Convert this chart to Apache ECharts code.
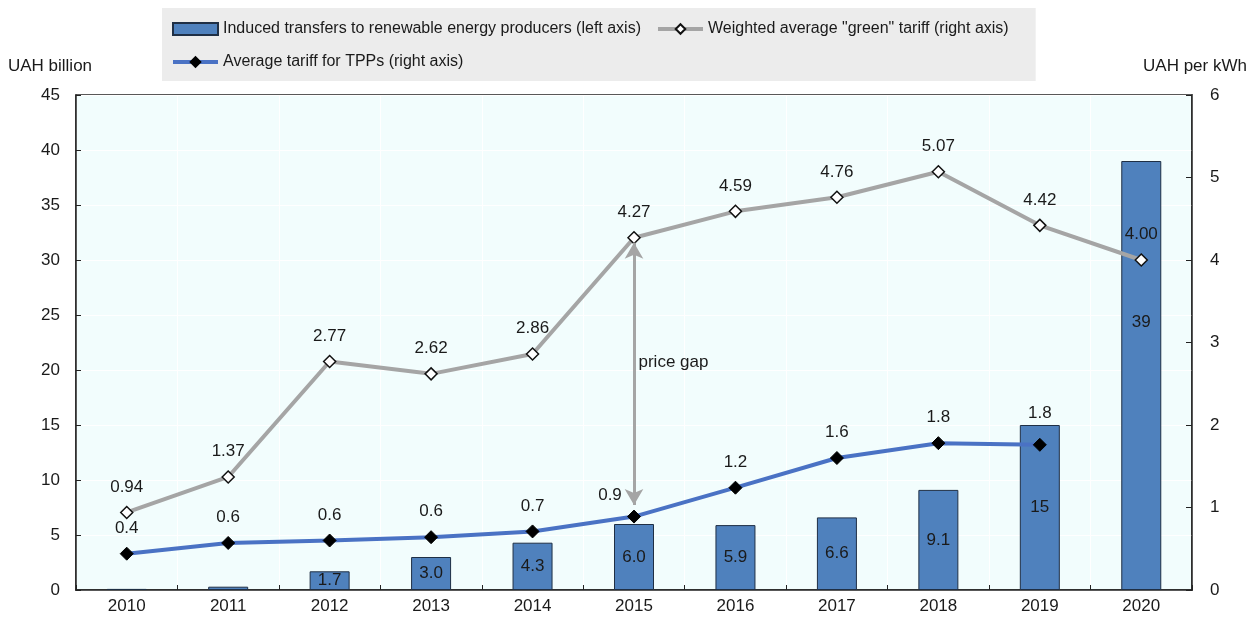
<!DOCTYPE html>
<html>
<head>
<meta charset="utf-8">
<script src="https://cdn.jsdelivr.net/npm/echarts@6/dist/echarts.min.js"></script>
<style>
  html, body { margin: 0; padding: 0; background: #ffffff; }
  #chart { width: 1257px; height: 617px; }
</style>
</head>
<body>
<div id="chart"></div>
<script>
// Years on the category axis
const years = ['2010', '2011', '2012', '2013', '2014', '2015', '2016', '2017', '2018', '2019', '2020'];
// Induced transfers to renewable energy producers, UAH billion (left axis)
const transfers = [0.1, 0.3, 1.7, 3.0, 4.3, 6.0, 5.9, 6.6, 9.1, 15, 39];
// Weighted average "green" tariff, UAH per kWh (right axis)
const greenTariff = [0.94, 1.37, 2.77, 2.62, 2.86, 4.27, 4.59, 4.76, 5.07, 4.42, 4.00];
// Average tariff for thermal power plants, UAH per kWh (right axis); no 2020 figure
const tppTariff = [0.44, 0.57, 0.60, 0.64, 0.71, 0.89, 1.24, 1.60, 1.78, 1.76, null];
// Axis ticks
const leftTicks = { min: 0, max: 45, step: 5 };
const rightTicks = { min: 0, max: 6, step: 1 };
// Year where the price gap is highlighted
const gapYear = '2015';

const FONT = "'Liberation Sans', Arial, sans-serif";
const TXT = '#1a1a1a';

const chart = echarts.init(document.getElementById('chart'), null, { renderer: 'canvas' });

const gapIdx = years.indexOf(gapYear);

const barData = transfers.map((v, i) => {
  const item = { value: v };
  if (v < 1) item.label = { show: false };
  if (i === years.length - 1) item.label = { show: true, offset: [0, -53] };
  return item;
});

const tppData = tppTariff.map((v, i) => {
  const item = { value: v == null ? '-' : v };
  if (i === gapIdx) item.label = { offset: [-24, 4] };
  if (i === 9) item.label = { offset: [0, -6] };
  return item;
});

const option = {
  animation: false,
  textStyle: { fontFamily: FONT },
  legend: {
    left: 162,
    top: 8,
    width: 850,
    padding: [12, 27, 10, 9],
    backgroundColor: '#ececec',
    itemWidth: 45,
    itemHeight: 12,
    itemGap: 15,
    align: 'left',
    textStyle: { fontFamily: FONT, fontSize: 16, color: TXT, lineHeight: 18 },
    data: [
      { name: 'Induced transfers to renewable energy producers (left axis)', icon: 'rect' },
      { name: 'Weighted average "green" tariff (right axis)', lineStyle: { width: 4 } },
      { name: 'Average tariff for TPPs (right axis)', lineStyle: { width: 4 } }
    ]
  },
  grid: {
    left: 76, right: 65, top: 95, bottom: 27,
    show: true,
    backgroundColor: '#f2fdfd',
    borderColor: '#222',
    borderWidth: 1.5
  },
  xAxis: {
    type: 'category',
    data: years,
    boundaryGap: true,
    axisLine: { lineStyle: { color: '#222', width: 1.5 } },
    axisTick: { show: true, inside: true, length: 5, lineStyle: { color: '#222' } },
    axisLabel: { color: TXT, fontSize: 17, margin: 8, fontFamily: FONT },
    splitLine: { show: true, lineStyle: { color: '#ffffff', width: 1 } }
  },
  yAxis: [
    {
      type: 'value',
      min: leftTicks.min, max: leftTicks.max, interval: leftTicks.step,
      name: 'UAH billion',
      nameLocation: 'end',
      nameGap: 20,
      nameTextStyle: { color: TXT, fontSize: 17, fontFamily: FONT, align: 'center', padding: [0, 52, 0, 0] },
      axisLine: { show: true, lineStyle: { color: '#222', width: 1.5 } },
      axisTick: { show: true, inside: true, length: 5, lineStyle: { color: '#222' } },
      axisLabel: { color: TXT, fontSize: 17, margin: 16, fontFamily: FONT },
      splitLine: { show: true, lineStyle: { color: '#ffffff', width: 1 } }
    },
    {
      type: 'value',
      min: rightTicks.min, max: rightTicks.max, interval: rightTicks.step,
      name: 'UAH per kWh',
      nameLocation: 'end',
      nameGap: 20,
      nameTextStyle: { color: TXT, fontSize: 17, fontFamily: FONT, align: 'center', padding: [0, 0, 0, 6] },
      axisLine: { show: true, lineStyle: { color: '#222', width: 1.5 } },
      axisTick: { show: true, inside: true, length: 6, lineStyle: { color: '#222' } },
      axisLabel: { color: TXT, fontSize: 17, margin: 18, fontFamily: FONT },
      splitLine: { show: false }
    }
  ],
  series: [
    {
      name: 'Induced transfers to renewable energy producers (left axis)',
      type: 'bar',
      yAxisIndex: 0,
      barWidth: 40,
      data: barData,
      itemStyle: { color: '#4f81bd', borderColor: '#1f2f45', borderWidth: 1 },
      label: {
        show: true,
        position: 'inside',
        color: TXT,
        fontSize: 17,
        fontFamily: FONT,
        formatter: p => (p.value >= 10 ? String(Math.round(p.value)) : p.value.toFixed(1))
      },
      z: 2
    },
    {
      name: 'Weighted average "green" tariff (right axis)',
      type: 'line',
      yAxisIndex: 1,
      data: greenTariff,
      symbol: 'diamond',
      symbolSize: 12,
      lineStyle: { color: '#a5a5a5', width: 4 },
      itemStyle: { color: '#ffffff', borderColor: '#111', borderWidth: 1.5 },
      label: {
        show: true,
        position: 'top',
        distance: 10,
        color: TXT,
        fontSize: 17,
        fontFamily: FONT,
        formatter: p => p.value.toFixed(2)
      },
      markLine: {
        silent: true,
        symbol: ['arrow', 'arrow'],
        symbolSize: [14, 16],
        lineStyle: { color: '#a5a5a5', width: 3, type: 'solid' },
        label: { show: false },
        data: [[
          { coord: [gapYear, greenTariff[gapIdx] - 0.06] },
          { coord: [gapYear, tppTariff[gapIdx] + 0.14] }
        ]]
      },
      markPoint: {
        silent: true,
        symbol: 'circle',
        symbolSize: 1,
        itemStyle: { color: 'rgba(0,0,0,0)' },
        label: {
          show: true,
          position: 'right',
          distance: 4,
          color: TXT,
          fontSize: 17,
          fontFamily: FONT,
          formatter: 'price gap'
        },
        data: [{ coord: [gapYear, (greenTariff[gapIdx] + tppTariff[gapIdx]) / 2 + 0.18] }]
      },
      z: 3
    },
    {
      name: 'Average tariff for TPPs (right axis)',
      type: 'line',
      yAxisIndex: 1,
      data: tppData,
      symbol: 'diamond',
      symbolSize: 13,
      lineStyle: { color: '#4a72c4', width: 4 },
      itemStyle: { color: '#000000', borderColor: '#000000', borderWidth: 1 },
      label: {
        show: true,
        position: 'top',
        distance: 10,
        color: TXT,
        fontSize: 17,
        fontFamily: FONT,
        formatter: p => (typeof p.value === 'number' ? p.value.toFixed(1) : '')
      },
      z: 4
    }
  ]
};

chart.setOption(option);
</script>
</body>
</html>
